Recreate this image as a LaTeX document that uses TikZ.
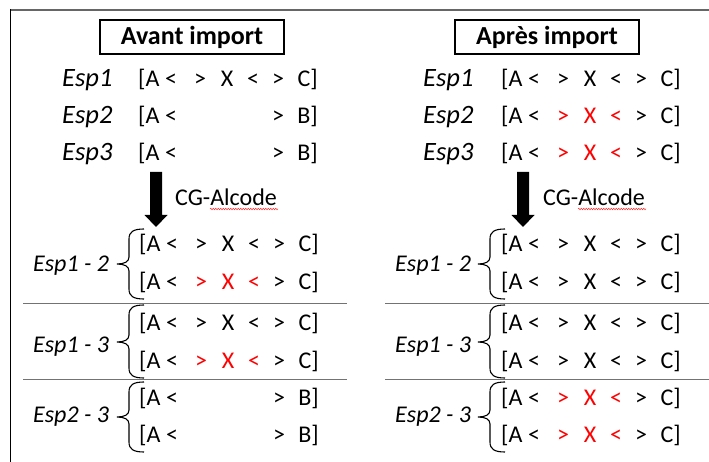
\documentclass[tikz,border=0pt]{standalone}
\usepackage{fontspec}
\setmainfont{Carlito}
\usetikzlibrary{decorations.pathmorphing}
\tikzset{
  tok/.style={anchor=base, inner sep=0pt, font=\fontsize{24}{28}\selectfont},
  lbl/.style={anchor=base west, inner sep=0pt, font=\fontsize{24}{28}\selectfont\itshape},
  toplbl/.style={anchor=base west, inner sep=0pt, font=\fontsize{26.5}{30}\selectfont\itshape},
  titlebox/.style={draw=black, line width=1.5pt, minimum width=184pt, minimum height=34pt, inner sep=0pt, font=\fontsize{26}{30}\selectfont\bfseries},
  brc/.style={draw=black, line width=1.1pt},
  sep/.style={draw=black!55, line width=1.1pt},
  redtok/.style={tok, text=red},
  wavy/.style={draw=red!80!white, line width=0.5pt, decorate, decoration={snake, amplitude=0.8pt, segment length=2.5pt}},
  bigarrow/.style={fill=black}
}
% #1 name, #2 xshift, #3 baseline y, #4 mode (0 black, 1 red middle, 2 B)
\newcommand{\seqrow}[4]{%
  \node[tok, anchor=base west] (#1a) at ({#2+138},#3) {[A};
  \node[tok] (#1b) at ({#2+171},#3) {<};
  \ifcase#4
    \node[tok] (#1c) at ({#2+200},#3) {>};
    \node[tok] (#1d) at ({#2+227},#3) {X};
    \node[tok] (#1e) at ({#2+253},#3) {<};
  \or
    \node[redtok] (#1c) at ({#2+200},#3) {>};
    \node[redtok] (#1d) at ({#2+227},#3) {X};
    \node[redtok] (#1e) at ({#2+253},#3) {<};
  \or
  \fi
  \node[tok] (#1f) at ({#2+278},#3) {>};
  \node[tok, anchor=base east] (#1g) at ({#2+318},#3) {\ifnum#4=2 B]\else C]\fi};
}
% #1 tip x, #2 top y, #3 bottom y, #4 mid y
\newcommand{\curlybrace}[4]{%
  \draw[brc] ({#1+27},#2) .. controls ({#1+16},#2) and ({#1+12},{#2+3}) .. ({#1+12},{#2+10})
    -- ({#1+12},{#4-7}) .. controls ({#1+12},{#4-2}) and ({#1+7},#4) .. (#1,#4)
    .. controls ({#1+7},#4) and ({#1+12},{#4+2}) .. ({#1+12},{#4+7})
    -- ({#1+12},{#3-10}) .. controls ({#1+12},{#3-3}) and ({#1+16},#3) .. ({#1+27},#3);
}
% #1 centre x
\newcommand{\bigdownarrow}[1]{%
  \fill[bigarrow] ({#1-6},172) -- ({#1+6},172) -- ({#1+6},215) -- ({#1+11.5},215)
    -- (#1,227) -- ({#1-11.5},215) -- ({#1-6},215) -- cycle;
}
\begin{document}
\begin{tikzpicture}[x=1pt, y=-1pt]
\useasboundingbox (0,0) rectangle (709,462);
\fill[white] (0,0) rectangle (709,462);
% frame lines
\coordinate (fl0) at (10,10);
\coordinate (fl1) at (709,10);
\coordinate (fl2) at (10.5,462);
\draw[black!60, line width=2pt] (fl0) -- (fl1);
\draw[black, line width=1.5pt] (10.5,9) -- (fl2);

% titles
\node[titlebox] (t1) at (192,37) {Avant import};
\node[titlebox] (t2) at (547,37) {Après import};

% top rows, left
\node[toplbl] (L1) at (62,87) {Esp1};
\node[toplbl] (L2) at (62,124) {Esp2};
\node[toplbl] (L3) at (62,161) {Esp3};
\seqrow{la}{0}{87}{0}
\seqrow{lb}{0}{124}{2}
\seqrow{lc}{0}{161}{2}
% top rows, right
\node[toplbl] (R1) at (423,87) {Esp1};
\node[toplbl] (R2) at (423,124) {Esp2};
\node[toplbl] (R3) at (423,161) {Esp3};
\seqrow{ra}{363}{87}{0}
\seqrow{rb}{363}{124}{1}
\seqrow{rc}{363}{161}{1}

% arrows
\bigdownarrow{156}
\bigdownarrow{523}
\node[tok, anchor=base west] (cg1) at (175,206) {CG-Alcode};
\node[tok, anchor=base west] (cg2) at (543,206) {CG-Alcode};
\draw[wavy] (210,209) -- (278,209);
\draw[wavy] (578,209) -- (646,209);

% lower left
\node[lbl] (LL1) at (33,272) {Esp1 - 2};
\node[lbl] (LL2) at (33,352) {Esp1 - 3};
\node[lbl] (LL3) at (33,422) {Esp2 - 3};
\curlybrace{117}{229}{299}{264}
\curlybrace{117}{305}{378}{342}
\curlybrace{117}{382}{452}{417}
\seqrow{ld}{1}{252}{0}
\seqrow{le}{1}{290}{1}
\seqrow{lf}{1}{330}{0}
\seqrow{lg}{1}{368}{1}
\seqrow{lh}{1}{405}{2}
\seqrow{li}{1}{442}{2}

% lower right
\node[lbl] (RL1) at (395,272) {Esp1 - 2};
\node[lbl] (RL2) at (395,352) {Esp1 - 3};
\node[lbl] (RL3) at (395,422) {Esp2 - 3};
\curlybrace{478}{229}{299}{264}
\curlybrace{478}{305}{378}{342}
\curlybrace{478}{382}{452}{417}
\seqrow{rd}{363}{252}{0}
\seqrow{re}{363}{290}{0}
\seqrow{rf}{363}{330}{0}
\seqrow{rg}{363}{368}{0}
\seqrow{rh}{363}{405}{1}
\seqrow{ri}{363}{442}{1}

% separators
\draw[sep] (23,303.5) -- (347,303.5);
\draw[sep] (23,379.5) -- (347,379.5);
\draw[sep] (385,303.5) -- (709,303.5);
\draw[sep] (385,379.5) -- (709,379.5);
\end{tikzpicture}
\end{document}
